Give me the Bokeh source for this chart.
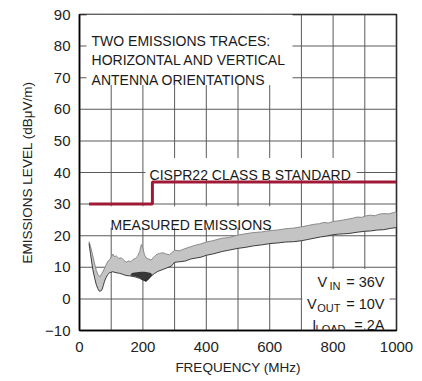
from bokeh.plotting import figure
from bokeh.models import FixedTicker, Label
from bokeh.embed import file_html
from bokeh.resources import INLINE

FONT = "'Liberation Sans', Arial, sans-serif"

# ---- data ----
limit_freq = [30, 230, 230, 1000]
limit_level = [30, 30, 37, 37]

upper_freq = [30, 35, 40, 47, 53, 58, 65, 70, 75, 84, 90, 95, 100, 105, 110, 116, 124, 132,
              140, 147, 155, 162, 168, 176, 184, 190, 195, 200, 205, 210, 218, 226, 234, 242,
              252, 263, 273, 284, 300, 315, 330, 350, 366, 383, 400, 420, 450, 470, 500, 523,
              550, 575, 600, 625, 650, 675, 700, 720, 740, 757, 771, 785, 800, 817, 834, 850,
              865, 876, 890, 905, 918, 932, 945, 960, 975, 990, 1000]
upper_level = [18.2, 16.5, 14.5, 11.4, 9.0, 7.7, 7.0, 8.0, 8.8, 10.8, 12.0, 12.4, 13.2, 14.2,
               13.4, 13.6, 12.8, 13.0, 12.2, 11.6, 12.0, 11.8, 12.4, 12.8, 13.6, 15.0, 17.2,
               16.0, 14.0, 13.0, 12.6, 12.3, 13.2, 14.0, 14.4, 14.6, 14.2, 14.0, 15.4, 15.2,
               15.8, 16.5, 17.0, 17.4, 18.0, 18.4, 19.2, 19.4, 20.2, 20.6, 21.0, 21.2, 21.6,
               21.8, 22.2, 22.4, 22.8, 23.2, 23.6, 23.8, 24.2, 24.0, 24.5, 24.7, 25.0, 25.3,
               25.6, 25.9, 25.8, 26.3, 26.5, 26.3, 26.8, 27.0, 26.9, 27.3, 27.5]

lower_freq = [30, 35, 42, 48, 53, 58, 63, 68, 71, 75, 79, 84, 89, 95, 105, 115, 126, 136, 147,
              158, 168, 178, 189, 200, 210, 218, 226, 236, 247, 260, 273, 290, 300, 320, 334,
              350, 366, 383, 400, 420, 450, 470, 500, 523, 550, 575, 600, 625, 650, 675, 700,
              720, 740, 760, 780, 800, 817, 834, 850, 876, 900, 918, 940, 960, 980, 1000]
lower_level = [17.6, 14.0, 9.3, 6.5, 4.5, 3.2, 2.4, 2.6, 2.9, 4.2, 5.6, 6.8, 7.7, 8.3, 8.6,
               8.3, 8.1, 7.8, 7.4, 7.3, 7.1, 6.9, 6.5, 6.0, 5.6, 6.4, 7.2, 8.0, 8.7, 9.2, 9.7,
               10.4, 11.6, 11.8, 12.0, 12.6, 12.9, 13.2, 13.8, 14.2, 15.0, 15.4, 16.0, 16.3,
               16.8, 17.1, 17.5, 17.7, 18.0, 18.1, 18.4, 18.8, 19.2, 19.6, 19.9, 20.3, 20.5,
               20.6, 20.7, 21.1, 21.4, 21.5, 21.8, 21.9, 22.3, 22.6]

blob_freq = [160, 175, 190, 200, 210, 220, 230, 225, 215, 205, 195, 180, 165]
blob_level = [7.4, 7.2, 6.6, 6.0, 5.4, 6.4, 7.6, 8.2, 8.4, 8.6, 8.6, 8.4, 8.2]

y_ticks = [-10, 0, 10, 20, 30, 40, 50, 60, 70, 80, 90]
x_ticks = [0, 200, 400, 600, 800, 1000]
x_minor = [100, 300, 500, 700, 900]
x_range = (0, 1000)
y_range = (-10, 90)

# white backgrounds behind the annotation texts: (left, right, bottom, top) in data units
text_boxes = [(22, 672, 67.7, 90), (208, 874, 37.6, 44.6), (88, 618, 22.5, 29.3),
              (703, 978, -9.3, 9.5)]

# ---- figure ----
p = figure(frame_width=317, frame_height=316, x_range=x_range, y_range=y_range,
           output_backend="svg", toolbar_location=None,
           min_border_left=79, min_border_top=14, min_border_right=18, min_border_bottom=50)

p.outline_line_color = "black"
p.outline_line_width = 1.5
p.grid.visible = False

p.xaxis.ticker = FixedTicker(ticks=x_ticks, minor_ticks=x_minor)
p.yaxis.ticker = FixedTicker(ticks=y_ticks)
p.yaxis.major_label_overrides = {-10: "\u221210"}

for ax in (p.xaxis, p.yaxis):
    ax.axis_line_color = "black"
    ax.axis_line_width = 1.5
    ax.major_tick_in = 0
    ax.major_tick_out = 0
    ax.minor_tick_in = 0
    ax.minor_tick_out = 0
    ax.major_label_text_font = FONT
    ax.major_label_text_font_size = "15px"
    ax.major_label_text_color = "#222222"
    ax.axis_label_text_font = FONT
    ax.axis_label_text_font_size = "13.5px"
    ax.axis_label_text_font_style = "normal"
    ax.axis_label_text_color = "#222222"

p.xaxis.axis_label = "FREQUENCY (MHz)"
p.yaxis.axis_label = "EMISSIONS LEVEL (dB\u03bcV/m)"
p.xaxis.major_label_standoff = 11
p.xaxis.axis_label_standoff = 5
p.yaxis.major_label_standoff = 9
p.yaxis.axis_label_standoff = 7

# ---- grid lines as 1px filled rectangles (from the tick arrays) ----
grid_x = x_ticks + x_minor
y_mid = (y_range[0] + y_range[1]) / 2
x_mid = (x_range[0] + x_range[1]) / 2
p.rect(x=grid_x, y=[y_mid] * len(grid_x), width=1, width_units="screen",
       height=y_range[1] - y_range[0], fill_color="#5a5a5a", line_color=None)
p.rect(x=[x_mid] * len(y_ticks), y=y_ticks, width=x_range[1] - x_range[0],
       height=1, height_units="screen", fill_color="#5a5a5a", line_color=None)

# ---- white text backgrounds ----
p.quad(left=[b[0] for b in text_boxes], right=[b[1] for b in text_boxes],
       bottom=[b[2] for b in text_boxes], top=[b[3] for b in text_boxes],
       fill_color="white", line_color=None)

# ---- emissions band ----
band_x = upper_freq + lower_freq[::-1]
band_y = upper_level + lower_level[::-1]
p.patch(band_x, band_y, fill_color="#c4c4c4", line_color=None)
p.line(upper_freq, upper_level, line_color="#8a8a8a", line_width=1.0)
p.line(lower_freq, lower_level, line_color="#3c3c3c", line_width=1.0)
p.patch(blob_freq, blob_level, fill_color="#1e1e1e", line_color=None, fill_alpha=0.85)

# ---- limit line ----
p.line(limit_freq, limit_level, line_color="#a01a38", line_width=3)

# ---- texts ----
def lab(x, y, text, size="14px", align="left"):
    p.add_layout(Label(x=x, y=y, text=text, text_font=FONT, text_font_size=size,
                       text_color="#1a1a1a", text_align=align, text_baseline="alphabetic"))

lab(38, 81.7, "TWO EMISSIONS TRACES:")
lab(38, 75.6, "HORIZONTAL AND VERTICAL")
lab(38, 69.3, "ANTENNA ORIENTATIONS")
lab(221, 39.2, "CISPR22 CLASS B STANDARD")
lab(98, 23.4, "MEASURED EMISSIONS")

lab(781, 5.5, "V", size="14.5px", align="right")
lab(823, 4.2, "IN", size="11px", align="right")
lab(962, 5.5, "= 36V", size="14.5px", align="right")
lab(748, -1.6, "V", size="14.5px", align="right")
lab(823, -2.9, "OUT", size="11px", align="right")
lab(962, -1.6, "= 10V", size="14.5px", align="right")
lab(747, -8.4, "I", size="14.5px", align="right")
lab(839, -9.6, "LOAD", size="11px", align="right")
lab(962, -8.4, "= 2A", size="14.5px", align="right")

open("out.html", "w").write(file_html(p, INLINE))
